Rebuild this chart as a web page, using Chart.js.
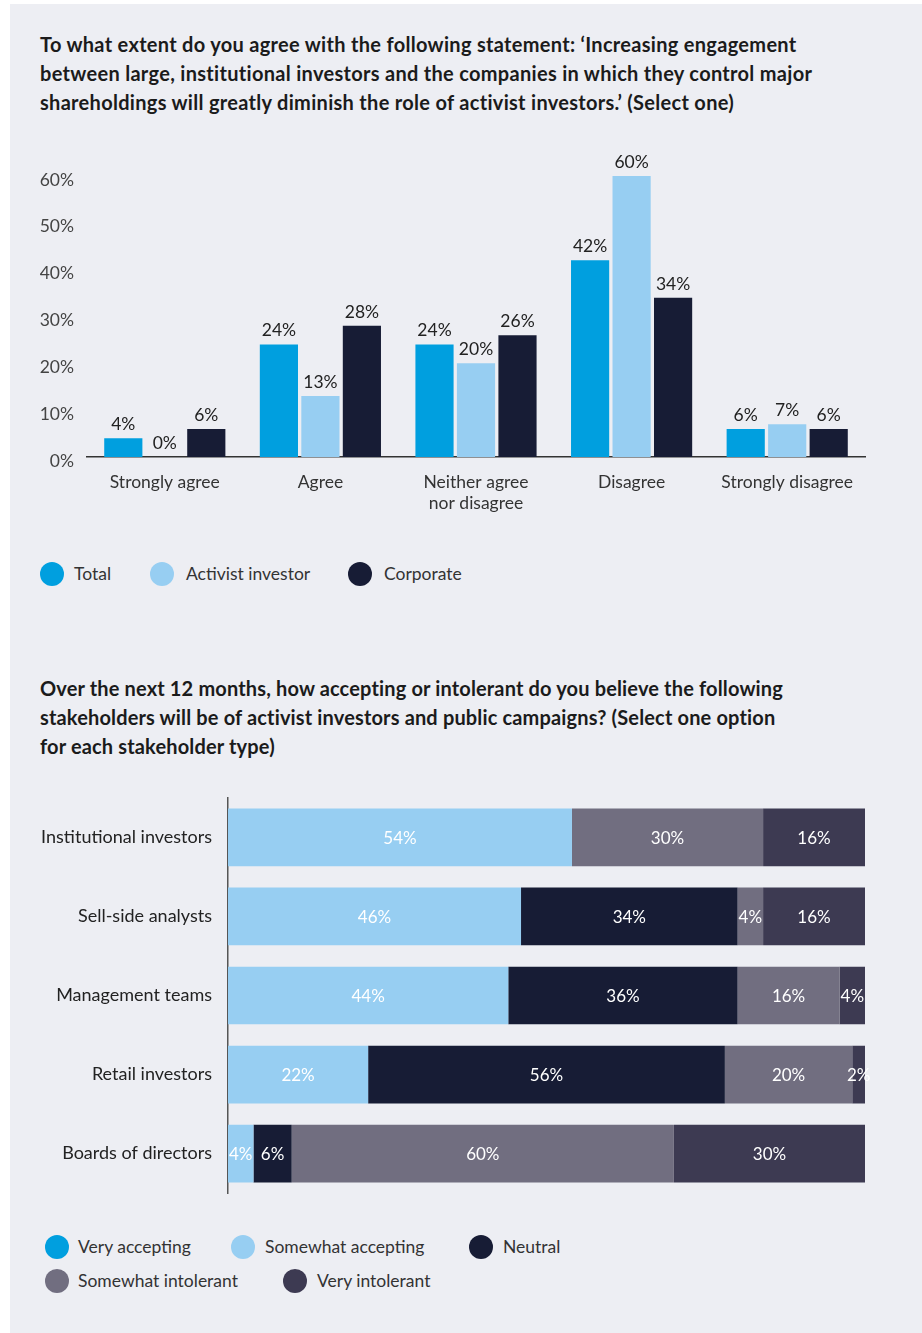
<!DOCTYPE html>
<html>
<head>
<meta charset="utf-8">
<script src="https://cdn.jsdelivr.net/npm/chart.js@4.4.1/dist/chart.umd.min.js"></script>
<style>
  body { margin: 0; background: #ffffff; font-family: Lato, "Noto Sans", sans-serif; }
  #page { position: absolute; left: 10px; top: 4px; width: 912px; height: 1329px; background: #edeef3; }
  .title { position: absolute; left: 40px; font-weight: bold; font-size: 20px; line-height: 29px; color: #1b1b1b; white-space: nowrap; }
  .chartbox { position: absolute; }
  .lg { position: absolute; font-size: 17.5px; color: #333; white-space: nowrap; line-height: 24px; }
  .dot { position: absolute; width: 24px; height: 24px; border-radius: 50%; }
</style>
</head>
<body>
<div id="page"></div>

<div class="title" style="top:30px; letter-spacing:0.3px">To what extent do you agree with the following statement: ‘Increasing engagement<br>between large, institutional investors and the companies in which they control major<br>shareholdings will greatly diminish the role of activist investors.’ (Select one)</div>

<div class="chartbox" style="left:30px; top:140px; width:860px; height:387px;"><canvas id="agreeChart"></canvas></div>

<div id="legend1"></div>

<div class="title" style="top:674px; letter-spacing:0.15px">Over the next 12 months, how accepting or intolerant do you believe the following<br>stakeholders will be of activist investors and public campaigns? (Select one option<br>for each stakeholder type)</div>

<div class="chartbox" style="left:30px; top:771px; width:860px; height:449px;"><canvas id="stakeChart"></canvas></div>

<div id="legend2"></div>

<script>
// survey 1: agree / disagree
const answers = ['Strongly agree', 'Agree', ['Neither agree', 'nor disagree'], 'Disagree', 'Strongly disagree'];
const total = [4, 24, 24, 42, 6];
const activist = [0, 13, 20, 60, 7];
const corporate = [6, 28, 26, 34, 6];
const percentTicks = [0, 10, 20, 30, 40, 50, 60];

// survey 2: stakeholder tolerance
const stakeholders = ['Institutional investors', 'Sell-side analysts', 'Management teams', 'Retail investors', 'Boards of directors'];
const veryAccepting = [0, 0, 0, 0, 0];
const somewhatAccepting = [54, 46, 44, 22, 4];
const neutral = [0, 34, 36, 56, 6];
const somewhatIntolerant = [30, 4, 16, 20, 60];
const veryIntolerant = [16, 16, 4, 2, 30];

const BLUE = '#009fdf';
const LIGHT = '#97cef2';
const NAVY = '#171c35';
const GREY = '#716e80';
const SLATE = '#3d3a52';
const FONT = 'Lato, "Noto Sans", sans-serif';

// labels above each bar
const topLabels = {
    id: 'topLabels',
    afterDatasetsDraw(chart) {
        const ctx = chart.ctx;
        ctx.save();
        ctx.font = '17.5px ' + FONT;
        ctx.fillStyle = '#222';
        ctx.textAlign = 'center';
        ctx.textBaseline = 'bottom';
        chart.data.datasets.forEach((ds, i) => {
            chart.getDatasetMeta(i).data.forEach((bar, j) => {
                ctx.fillText(ds.data[j] + '%', bar.x, bar.y - 5);
            });
        });
        ctx.restore();
    }
};

// labels centred in each stacked segment
const insideLabels = {
    id: 'insideLabels',
    afterDatasetsDraw(chart) {
        const ctx = chart.ctx;
        ctx.save();
        ctx.font = '17px ' + FONT;
        ctx.fillStyle = '#ffffff';
        ctx.textAlign = 'center';
        ctx.textBaseline = 'middle';
        chart.data.datasets.forEach((ds, i) => {
            chart.getDatasetMeta(i).data.forEach((bar, j) => {
                if (!ds.data[j]) return;
                const c = bar.getCenterPoint();
                ctx.fillText(ds.data[j] + '%', c.x, c.y + 1);
            });
        });
        ctx.restore();
    }
};

Chart.defaults.font.family = FONT;
Chart.defaults.animation = false;

new Chart(document.getElementById('agreeChart'), {
    type: 'bar',
    data: {
        labels: answers,
        datasets: [
            { label: 'Total', data: total, backgroundColor: BLUE },
            { label: 'Activist investor', data: activist, backgroundColor: LIGHT },
            { label: 'Corporate', data: corporate, backgroundColor: NAVY }
        ]
    },
    options: {
        responsive: true,
        maintainAspectRatio: false,
        categoryPercentage: 0.8,
        barPercentage: 0.92,
        layout: { padding: { top: 36, right: 25, left: 0, bottom: 0 } },
        plugins: { legend: { display: false }, tooltip: { enabled: false } },
        scales: {
            x: {
                grid: { display: false, drawTicks: false },
                border: { display: true, color: '#333', width: 1.5 },
                ticks: { color: '#333', font: { size: 17.5, lineHeight: 1.25 }, padding: 14, maxRotation: 0, autoSkip: false },
                afterFit(scale) { scale.height = 70; }
            },
            y: {
                min: 0,
                max: 60,
                grid: { display: false, drawTicks: false },
                border: { display: false },
                afterBuildTicks(scale) { scale.ticks = percentTicks.map(v => ({ value: v })); },
                ticks: { color: '#444', font: { size: 17.5 }, padding: 13, labelOffset: 4, callback: v => v + '%' },
                afterFit(scale) { scale.width = 57; }
            }
        }
    },
    plugins: [topLabels]
});

new Chart(document.getElementById('stakeChart'), {
    type: 'bar',
    data: {
        labels: stakeholders,
        datasets: [
            { label: 'Very accepting', data: veryAccepting, backgroundColor: BLUE },
            { label: 'Somewhat accepting', data: somewhatAccepting, backgroundColor: LIGHT },
            { label: 'Neutral', data: neutral, backgroundColor: NAVY },
            { label: 'Somewhat intolerant', data: somewhatIntolerant, backgroundColor: GREY },
            { label: 'Very intolerant', data: veryIntolerant, backgroundColor: SLATE }
        ]
    },
    options: {
        indexAxis: 'y',
        responsive: true,
        maintainAspectRatio: false,
        categoryPercentage: 1,
        barPercentage: 0.73,
        layout: { padding: { top: 16, right: 25, left: 0, bottom: 7 } },
        plugins: { legend: { display: false }, tooltip: { enabled: false } },
        scales: {
            x: { stacked: true, min: 0, max: 100, display: false },
            y: {
                stacked: true,
                grid: { display: false, drawTicks: false },
                border: { display: true, color: '#555', width: 1.5 },
                ticks: { color: '#222', font: { size: 18 }, padding: 16 },
                afterFit(scale) { scale.width = 198; }
            }
        }
    },
    plugins: [insideLabels]
});

// legends
function legendItem(parent, color, text, cx, cy, tx) {
    const dot = document.createElement('div');
    dot.className = 'dot';
    dot.style.background = color;
    dot.style.left = (cx - 12) + 'px';
    dot.style.top = (cy - 12) + 'px';
    parent.appendChild(dot);
    const lab = document.createElement('div');
    lab.className = 'lg';
    lab.textContent = text;
    lab.style.left = tx + 'px';
    lab.style.top = (cy - 12) + 'px';
    parent.appendChild(lab);
}

const legend1 = document.getElementById('legend1');
legendItem(legend1, BLUE, 'Total', 52, 574, 74);
legendItem(legend1, LIGHT, 'Activist investor', 162, 574, 186);
legendItem(legend1, NAVY, 'Corporate', 360, 574, 384);

const legend2 = document.getElementById('legend2');
legendItem(legend2, BLUE, 'Very accepting', 57, 1247, 78);
legendItem(legend2, LIGHT, 'Somewhat accepting', 243, 1247, 265);
legendItem(legend2, NAVY, 'Neutral', 481, 1247, 503);
legendItem(legend2, GREY, 'Somewhat intolerant', 57, 1281, 78);
legendItem(legend2, SLATE, 'Very intolerant', 295, 1281, 317);
</script>
</body>
</html>
